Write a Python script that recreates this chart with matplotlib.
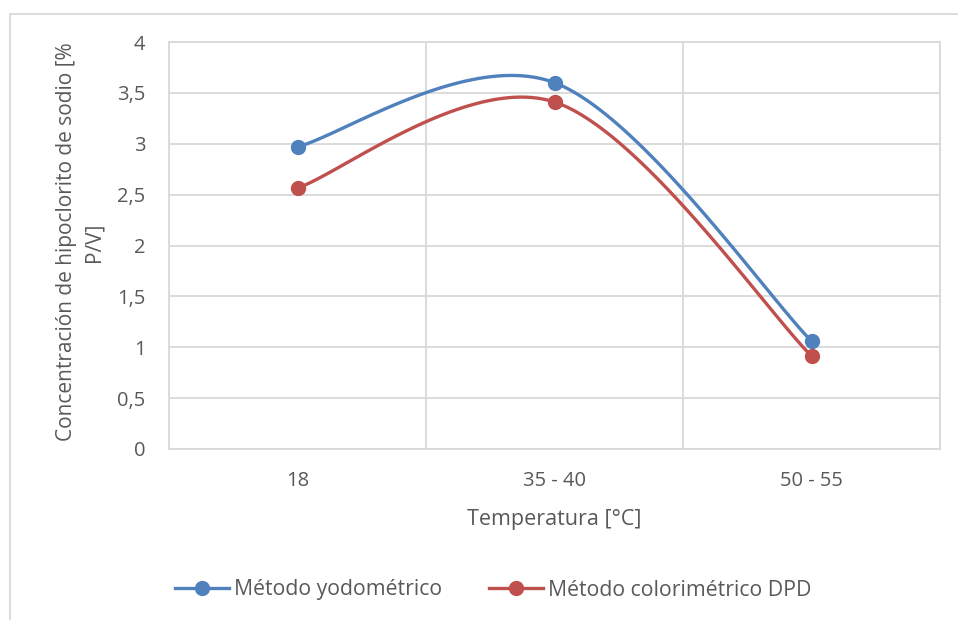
import numpy as np
import matplotlib
matplotlib.use("Agg")
import matplotlib.pyplot as plt
from matplotlib.lines import Line2D

categories = ["18", "35 - 40", "50 - 55"]
yodometrico = [2.97, 3.60, 1.06]
colorimetrico = [2.565, 3.41, 0.914]
series_names = ["Método yodométrico", "Método colorimétrico DPD"]
ytick_vals = [0, 0.5, 1, 1.5, 2, 2.5, 3, 3.5, 4]
ytick_labels = ["0", "0,5", "1", "1,5", "2", "2,5", "3", "3,5", "4"]

plt.rcParams['font.family'] = ['Open Sans', 'DejaVu Sans']
TXT = "#595959"
GRID = "#d9d9d9"
BLUE = "#4f81bd"
RED = "#c0504d"


def smooth(xs, ys, n=60):
    xs = np.asarray(xs, float)
    ys = np.asarray(ys, float)
    P = np.column_stack([xs, ys])
    out = []
    m = len(P)
    for i in range(m - 1):
        p0 = P[i - 1] if i > 0 else P[i]
        p1 = P[i]
        p2 = P[i + 1]
        p3 = P[i + 2] if i + 2 < m else P[i + 1]
        c1 = p1 + (p2 - p0) / 6.0
        c2 = p2 - (p3 - p1) / 6.0
        t = np.linspace(0, 1, n)[:, None]
        seg = ((1 - t) ** 3) * p1 + 3 * ((1 - t) ** 2) * t * c1 + 3 * (1 - t) * t ** 2 * c2 + t ** 3 * p2
        out.append(seg if i == 0 else seg[1:])
    out = np.vstack(out)
    return out[:, 0], out[:, 1]


fig = plt.figure(figsize=(9.58, 6.2), dpi=100)
ax = fig.add_axes([169 / 958, 1 - 449 / 620, (940 - 169) / 958, (449 - 42) / 620])

x = np.arange(len(categories))
for vals, col, name in [(yodometrico, BLUE, series_names[0]), (colorimetrico, RED, series_names[1])]:
    sx, sy = smooth(x, vals)
    ax.plot(sx, sy, color=col, lw=2.4, solid_capstyle='round', zorder=3)
    ax.plot(x, vals, 'o', color=col, ms=10, zorder=4)

ax.set_xlim(-0.5, len(categories) - 0.5)
ax.set_ylim(0, 4)
ax.set_yticks(ytick_vals)
ax.set_yticklabels(ytick_labels)
ax.set_xticks(x)
ax.set_xticklabels(categories)
ax.set_xticks(np.arange(len(categories) + 1) - 0.5, minor=True)
ax.grid(True, which='major', axis='y', color=GRID, lw=1.3)
ax.grid(True, which='minor', axis='x', color=GRID, lw=1.3)
ax.set_axisbelow(True)
ax.tick_params(axis='both', which='both', length=0, colors=TXT, labelsize=14.5)
ax.tick_params(axis='y', pad=17)
ax.tick_params(axis='x', pad=16)
for s in ax.spines.values():
    s.set_color(GRID)
    s.set_linewidth(1.3)

ax.set_xlabel("Temperatura [°C]", color=TXT, fontsize=15.5, labelpad=12.5)
fig.text(80 / 958, 1 - 242 / 620, "Concentración de hipoclorito de sodio [%\nP/V]", color=TXT,
         fontsize=15, rotation=90, ha='center', va='center', linespacing=1.38, multialignment='center')

handles = [Line2D([0], [0], color=BLUE, lw=2.4, marker='o', ms=10),
           Line2D([0], [0], color=RED, lw=2.4, marker='o', ms=10)]
leg = fig.legend(handles, series_names, loc='center', bbox_to_anchor=(493 / 958, 1 - 590 / 620), ncol=2,
                 frameon=False, fontsize=15.3, handlelength=2.55, handletextpad=0.22, columnspacing=2.2)
for t in leg.get_texts():
    t.set_color(TXT)

fig.add_artist(Line2D([10 / 958, 10 / 958], [0, 1 - 14 / 620], color=GRID, lw=1.3, transform=fig.transFigure))
fig.add_artist(Line2D([10 / 958, 1], [1 - 14 / 620, 1 - 14 / 620], color=GRID, lw=1.3, transform=fig.transFigure))

fig.savefig("out.png", dpi=100, facecolor='white')
